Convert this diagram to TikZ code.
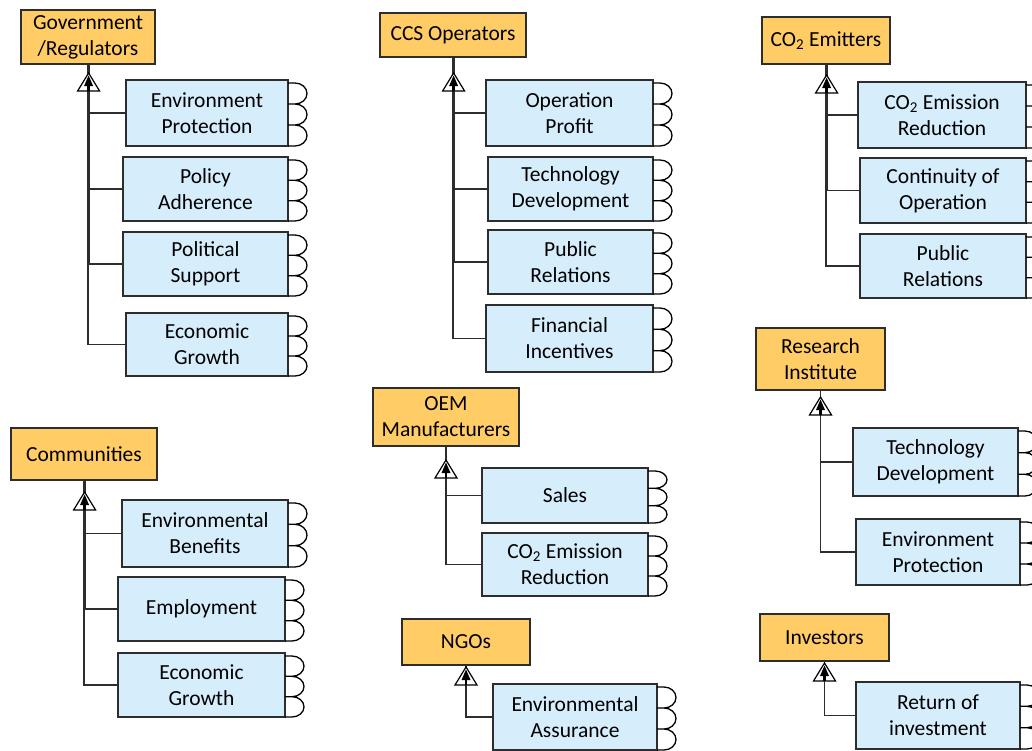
\documentclass[tikz,border=0pt]{standalone}
\usepackage{fontspec}
\setmainfont{Carlito}
\usetikzlibrary{calc}

\definecolor{actorfill}{RGB}{255,204,102}
\definecolor{goalfill}{RGB}{214,237,252}
\definecolor{edge}{RGB}{45,45,45}

\newcommand\boxfont{\fontsize{21.5}{26}\selectfont}

% three rounded tabs on the right-hand side of a goal box
\newcommand\lobes[1]{%
  \draw[lobe] let \p1=(#1.north east), \p2=(#1.south east),
                  \n1={((\y1)-(\y2)-3pt)/6} in
    (\x1,{\y1-3pt}) -- ++(7pt,0pt)
      arc[start angle=90,end angle=-90,x radius=12pt,y radius=\n1] -- (\x1,{\y1-3pt-2*\n1})
    (\x1,{\y1-3pt-2*\n1}) -- ++(7pt,0pt)
      arc[start angle=90,end angle=-90,x radius=12pt,y radius=\n1] -- (\x1,{\y1-3pt-4*\n1})
    (\x1,{\y1-3pt-4*\n1}) -- ++(7pt,0pt)
      arc[start angle=90,end angle=-90,x radius=12pt,y radius=\n1] -- (\x1,\y2);
}

\tikzset{
  actor/.style={draw=edge, fill=actorfill, line width=1.6pt, inner sep=2pt,
                outer sep=0pt, align=center, font=\boxfont},
  goal/.style={draw=edge, fill=goalfill, line width=1.6pt, inner sep=2pt,
               outer sep=0pt, align=center, font=\boxfont},
  lobe/.style={draw=black, line width=1.3pt},
  conn/.style={draw=edge, line width=1.5pt},
  inherit/.pic={
    \draw[line width=1.2pt, draw=black, fill=white] (0,0) -- (-11,-18) -- (11,-18) -- cycle;
    \draw[line width=2.4pt] (0,-18) -- (0,-6);
    \fill (0,-2.5) -- (-4.5,-13) -- (4.5,-13) -- cycle;
  },
}

\begin{document}
\begin{tikzpicture}[x=1pt,y=1pt]
\useasboundingbox (0,0) rectangle (1032,-750);
\fill[white] (0,0) rectangle (1032,-750);
\clip (0,0) rectangle (1032,-750);

% ---------- Government / Regulators ----------
\node[actor, minimum width=134pt, minimum height=54pt] (gov) at (88,-37) {Government\\/Regulators};
\node[goal, minimum width=162pt, minimum height=66pt] (g1) at (207,-113) {Environment\\Protection};
\node[goal, minimum width=165pt, minimum height=64pt] (g2) at (205.5,-189) {Policy\\Adherence};
\node[goal, minimum width=165pt, minimum height=64pt] (g3) at (205.5,-264) {Political\\Support};
\node[goal, minimum width=162pt, minimum height=63pt] (g4) at (207,-344.5) {Economic\\Growth};

% ---------- CCS Operators ----------
\node[actor, minimum width=146pt, minimum height=44pt] (ccs) at (453,-35) {CCS Operators};
\node[goal, minimum width=167pt, minimum height=66pt] (c1) at (569.5,-113) {Operation\\Profit};
\node[goal, minimum width=165pt, minimum height=64pt] (c2) at (570.5,-189) {Technology\\Development};
\node[goal, minimum width=165pt, minimum height=64pt] (c3) at (570.5,-262) {Public\\Relations};
\node[goal, minimum width=167pt, minimum height=67pt] (c4) at (569.5,-338.5) {Financial\\Incentives};

% ---------- CO2 Emitters ----------
\node[actor, minimum width=128pt, minimum height=47pt] (emi) at (826,-40.5) {CO\textsubscript{2} Emitters};
\node[goal, minimum width=168pt, minimum height=66pt] (e1) at (942,-115) {CO\textsubscript{2} Emission\\Reduction};
\node[goal, minimum width=166pt, minimum height=65pt] (e2) at (943,-190.5) {Continuity of\\Operation};
\node[goal, minimum width=166pt, minimum height=64pt] (e3) at (943,-266) {Public\\Relations};

% ---------- Communities ----------
\node[actor, minimum width=146pt, minimum height=52pt] (com) at (84,-454) {Communities};
\node[goal, minimum width=166pt, minimum height=67pt] (m1) at (205,-533.5) {Environmental\\Benefits};
\node[goal, minimum width=167pt, minimum height=64pt] (m2) at (201.5,-609) {Employment};
\node[goal, minimum width=167pt, minimum height=64pt] (m3) at (201.5,-685) {Economic\\Growth};

% ---------- OEM Manufacturers ----------
\node[actor, minimum width=146pt, minimum height=58pt] (oem) at (446,-417) {OEM\\Manufacturers};
\node[goal, minimum width=166pt, minimum height=55pt] (o1) at (565,-495.5) {Sales};
\node[goal, minimum width=166pt, minimum height=63pt] (o2) at (565,-564.5) {CO\textsubscript{2} Emission\\Reduction};

% ---------- NGOs ----------
\node[actor, minimum width=128pt, minimum height=46pt] (ngo) at (466,-642) {NGOs};
\node[goal, minimum width=164pt, minimum height=66pt] (n1) at (575,-717) {Environmental\\Assurance};

% ---------- Research Institute ----------
\node[actor, minimum width=129pt, minimum height=62pt] (res) at (820.5,-359) {Research\\Institute};
\node[goal, minimum width=165pt, minimum height=68pt] (r1) at (935.5,-462) {Technology\\Development};
\node[goal, minimum width=164pt, minimum height=66pt] (r2) at (938,-552) {Environment\\Protection};

% ---------- Investors ----------
\node[actor, minimum width=129pt, minimum height=47pt] (inv) at (824.5,-637.5) {Investors};
\node[goal, minimum width=164pt, minimum height=67pt] (i1) at (938,-715.5) {Return of\\investment};

% tabs on every goal box
\foreach \g in {g1,g2,g3,g4,c1,c2,c3,c4,e1,e2,e3,m1,m2,m3,o1,o2,n1,r1,r2,i1}{\lobes{\g}}

% ---------- connectors ----------
\draw[conn] (g1.west) -| ([xshift=1.2pt]gov.south);
\draw[conn] (g2.west) -| ([xshift=1.2pt]gov.south);
\draw[conn] (g3.west) -| ([xshift=1.2pt]gov.south);
\draw[conn] (g4.west) -| (gov.south);

\draw[conn] (c1.west) -| ([xshift=1.2pt]ccs.south);
\draw[conn] (c2.west) -| ([xshift=1.2pt]ccs.south);
\draw[conn] (c3.west) -| ([xshift=1.2pt]ccs.south);
\draw[conn] (c4.west) -| (ccs.south);

\draw[conn] (e1.west) -| ([xshift=1.2pt]emi.south);
\draw[conn] (e2.west) -| ([xshift=1.2pt]emi.south);
\draw[conn] (e3.west) -| (emi.south);

\draw[conn] (m1.west) -| ([xshift=1.2pt]com.south);
\draw[conn] (m2.west) -| ([xshift=1.2pt]com.south);
\draw[conn] (m3.west) -| (com.south);

\draw[conn] (o1.west) -| (oem.south);
\draw[conn] (o2.west) -| (oem.south);

\draw[conn] (n1.west) -| (ngo.south);

\draw[conn] (r1.west) -| (res.south);
\draw[conn] (r2.west) -| (res.south);

\draw[conn] (i1.west) -| (inv.south);

% ---------- generalisation arrowheads ----------
\pic at ([xshift=0.6pt,yshift=-9pt]gov.south) {inherit};
\pic at ([xshift=0.6pt,yshift=-16pt]ccs.south) {inherit};
\pic at ([xshift=0.6pt,yshift=-11pt]emi.south) {inherit};
\pic at ([xshift=0.6pt,yshift=-12pt]com.south) {inherit};
\pic at ([yshift=-14pt]oem.south) {inherit};
\pic at ([yshift=-2pt]ngo.south) {inherit};
\pic at ([yshift=-7pt]res.south) {inherit};
\pic at ([yshift=-2pt]inv.south) {inherit};
\end{tikzpicture}
\end{document}
